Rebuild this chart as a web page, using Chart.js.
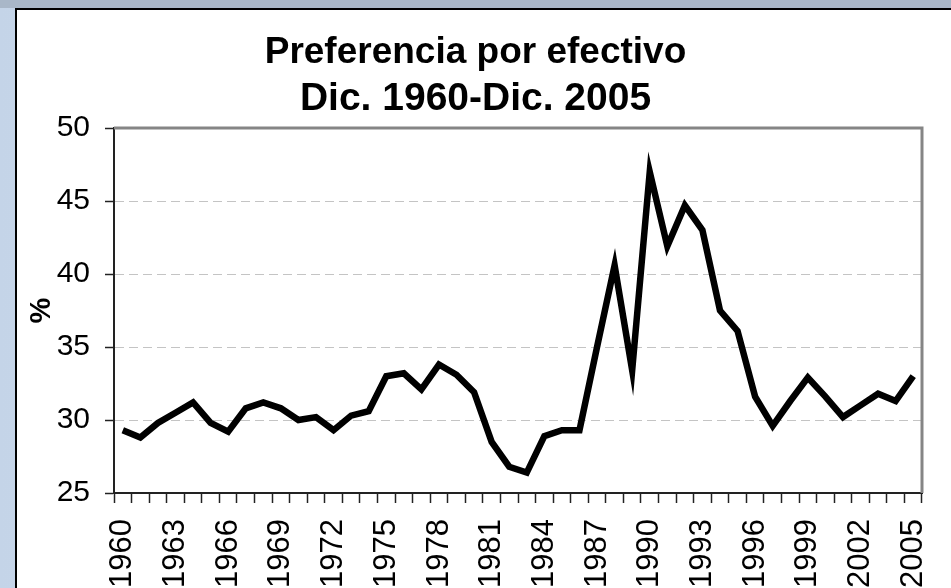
<!DOCTYPE html>
<html lang="es">
<head>
    <meta charset="UTF-8">
    <title>Preferencia por efectivo</title>
    <script src="https://cdn.jsdelivr.net/npm/chart.js@4.4.1/dist/chart.umd.min.js"></script>
    <style>
        html, body { margin: 0; padding: 0; width: 951px; height: 588px; overflow: hidden; }
        body { background: linear-gradient(90deg, #c4d4e8, #d6e2f0 60%, #c8d7ea); position: relative; }
        #band { position: absolute; left: 0; top: 0; width: 951px; height: 8px; background: #a9b7c8; }
        #panel { position: absolute; left: 15px; top: 8px; width: 940px; height: 590px; background: #fff;
                 border-left: 2px solid #000; border-top: 2px solid #000; }
        #chart { position: absolute; left: 0; top: 0; }
    </style>
</head>
<body>
<div id="band"></div>
<div id="panel"></div>
<canvas id="chart" width="951" height="588"></canvas>
<script>
    // Dic. de cada año
    const years = [];
    for (let y = 1960; y <= 2005; y++) years.push(String(y));

    // preferencia por efectivo, %
    const cashPref = [
        29.3, 28.8, 29.8, 30.5, 31.2, 29.8, 29.2, 30.8, 31.2, 30.8,
        30.0, 30.2, 29.3, 30.3, 30.6, 33.0, 33.2, 32.1, 33.8, 33.1,
        31.9, 28.5, 26.8, 26.4, 28.9, 29.3, 29.3, 35.0, 40.6, 33.4,
        47.0, 41.9, 44.7, 43.0, 37.5, 36.1, 31.6, 29.6, 31.3, 32.9,
        31.6, 30.2, 31.0, 31.8, 31.3, 33.0
    ];

    const titleText = 'Preferencia por efectivo';
    const subtitleText = 'Dic. 1960-Dic. 2005';
    const yMin = 25, yMax = 50, yStep = 5;

    const FONT = "'Liberation Sans', Arial, sans-serif";

    // top + right frame of the plot area, gray like the original
    const frame = {
        id: 'frame',
        beforeDatasetsDraw(chart) {
            const {ctx, chartArea: a} = chart;
            ctx.save();
            ctx.strokeStyle = '#858585';
            ctx.lineWidth = 3;
            ctx.beginPath();
            ctx.moveTo(a.left, a.top);
            ctx.lineTo(a.right, a.top);
            ctx.lineTo(a.right, a.bottom);
            ctx.stroke();
            ctx.restore();
        }
    };

    const ctx = document.getElementById('chart').getContext('2d');
    new Chart(ctx, {
        type: 'line',
        data: {
            labels: years,
            datasets: [{
                data: cashPref,
                borderColor: '#000',
                borderWidth: 6.5,
                pointRadius: 0,
                tension: 0,
                fill: false
            }]
        },
        plugins: [frame],
        options: {
            responsive: false,
            animation: false,
            layout: { padding: 0 },
            plugins: {
                legend: { display: false },
                tooltip: { enabled: false },
                title: {
                    display: true,
                    text: titleText,
                    color: '#000',
                    font: { family: FONT, size: 37, weight: 'bold', lineHeight: 1.0 },
                    padding: { top: 34, bottom: 0 }
                },
                subtitle: {
                    display: true,
                    text: subtitleText,
                    color: '#000',
                    font: { family: FONT, size: 39, weight: 'bold', lineHeight: 1.0 },
                    padding: { top: 9, bottom: 9 }
                }
            },
            scales: {
                x: {
                    offset: true,
                    grid: { offset: true, drawOnChartArea: false, drawTicks: true, tickLength: 10,
                            tickColor: '#222', tickWidth: 1.5, tickBorderDash: [] },
                    border: { color: '#222', width: 2 },
                    ticks: {
                        autoSkip: false, maxRotation: 90, minRotation: 90, padding: 16,
                        color: '#000', font: { family: FONT, size: 31 },
                        callback: function (v, i) { return i % 3 === 0 ? years[i] : ''; }
                    },
                    afterFit(s) { s.height = 95; s.paddingLeft = 0; s.paddingRight = 29; }
                },
                y: {
                    min: yMin, max: yMax,
                    grid: {
                        color: c => (c.tick && (c.tick.value === yMin || c.tick.value === yMax)) ? 'rgba(0,0,0,0)' : '#c4c4c4',
                        lineWidth: 1, tickLength: 9, tickColor: '#222', tickWidth: 1.5, tickBorderDash: []
                    },
                    border: { color: '#222', width: 2, dash: [9, 5] },
                    ticks: { stepSize: yStep, padding: 15, color: '#000', font: { family: FONT, size: 30 } },
                    title: {
                        display: true, text: '%', color: '#000',
                        font: { family: FONT, size: 29, weight: 'bold' },
                        padding: { top: 25, bottom: 0 }
                    },
                    afterFit(s) { s.width = 114; }
                }
            }
        }
    });
</script>
</body>
</html>
